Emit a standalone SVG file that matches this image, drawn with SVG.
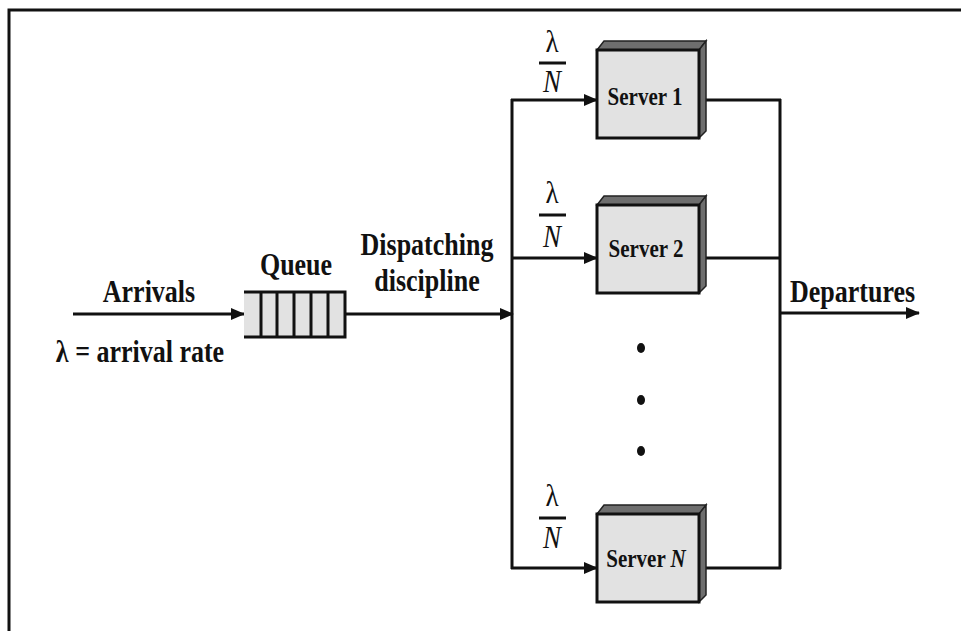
<svg xmlns="http://www.w3.org/2000/svg" width="961" height="631" viewBox="0 0 961 631">
<style>
  .ln { stroke: #111; stroke-width: 3; fill: none; }
  .lbl { font-family: "Liberation Serif", "Times New Roman", serif; font-weight: bold; font-size: 26px; fill: #111; }
  .srv { font-family: "Liberation Serif", "Times New Roman", serif; font-weight: bold; font-size: 21px; fill: #111; text-anchor: middle; }
  .frac { font-family: "Liberation Serif", "Times New Roman", serif; font-size: 27px; fill: #111; text-anchor: middle; }
  .it { font-style: italic; }
  .front { fill: #e2e2e2; stroke: #111; stroke-width: 3; }
  .side { fill: #6e6e6e; stroke: #222; stroke-width: 1.5; }
  .mid { text-anchor: middle; }
</style>
<defs>
  <marker id="ah" markerWidth="14" markerHeight="14" refX="13" refY="7" orient="auto" markerUnits="userSpaceOnUse">
    <path d="M0,1 L14,7 L0,13 Z" fill="#111"/>
  </marker>
</defs>
<rect width="961" height="631" fill="#fff"/>
<path d="M9,631 V10 H961" class="ln"/>

<g id="connectors">
  <line x1="73" y1="314" x2="244" y2="314" class="ln" marker-end="url(#ah)"/>
  <line x1="345" y1="314" x2="513" y2="314" class="ln" marker-end="url(#ah)"/>
  <line x1="512" y1="99" x2="512" y2="569" class="ln"/>
  <line x1="511" y1="100" x2="597" y2="100" class="ln" marker-end="url(#ah)"/>
  <line x1="511" y1="258" x2="597" y2="258" class="ln" marker-end="url(#ah)"/>
  <line x1="511" y1="568" x2="597" y2="568" class="ln" marker-end="url(#ah)"/>
  <line x1="705" y1="100" x2="781" y2="100" class="ln"/>
  <line x1="705" y1="258" x2="781" y2="258" class="ln"/>
  <line x1="705" y1="568" x2="781" y2="568" class="ln"/>
  <line x1="780" y1="99" x2="780" y2="569" class="ln"/>
  <line x1="780" y1="313" x2="919" y2="313" class="ln" marker-end="url(#ah)"/>
</g>

<g id="arrivals">
  <text class="lbl mid" transform="translate(149,302) scale(1,1.2)">Arrivals</text>
  <text class="lbl mid" transform="translate(140,362) scale(1,1.2)">λ = arrival rate</text>
</g>

<g id="queue">
  <rect x="244" y="292" width="101" height="45" fill="#e2e2e2"/>
  <path d="M244,292 H345 V337 H244 M261,292 V337 M277,292 V337 M294,292 V337 M311,292 V337 M328,292 V337" class="ln"/>
  <text class="lbl mid" transform="translate(296,275) scale(1,1.2)">Queue</text>
</g>

<g id="dispatch">
  <text class="lbl mid" transform="translate(427,255) scale(1,1.2)">Dispatching</text>
  <text class="lbl mid" transform="translate(427,291) scale(1,1.2)">discipline</text>
</g>

<g id="server1">
  <polygon class="side" points="597,50 604,41 706,41 699,50"/>
  <polygon class="side" points="699,50 706,41 706,131 699,138"/>
  <rect class="front" x="597" y="50" width="102" height="88"/>
  <text class="srv" transform="translate(645,105) scale(1,1.22)">Server 1</text>
  <text class="frac" transform="translate(552,52) scale(1,1.2)">λ</text>
  <line x1="539" y1="63" x2="566" y2="63" class="ln"/>
  <text class="frac it" transform="translate(552,92) scale(1,1.2)">N</text>
</g>

<g id="server2">
  <polygon class="side" points="597,205 604,196 706,196 699,205"/>
  <polygon class="side" points="699,205 706,196 706,286 699,293"/>
  <rect class="front" x="597" y="205" width="102" height="88"/>
  <text class="srv" transform="translate(646,257) scale(1,1.22)">Server 2</text>
  <text class="frac" transform="translate(552,203) scale(1,1.2)">λ</text>
  <line x1="539" y1="215" x2="566" y2="215" class="ln"/>
  <text class="frac it" transform="translate(552,247) scale(1,1.2)">N</text>
</g>

<g id="dots">
  <ellipse cx="641" cy="348" rx="4" ry="5" fill="#111"/>
  <ellipse cx="641" cy="400" rx="4" ry="5" fill="#111"/>
  <ellipse cx="641" cy="451" rx="4" ry="5" fill="#111"/>
</g>

<g id="serverN">
  <polygon class="side" points="597,514 604,505 706,505 699,514"/>
  <polygon class="side" points="699,514 706,505 706,595 699,602"/>
  <rect class="front" x="597" y="514" width="102" height="88"/>
  <text class="srv" transform="translate(646,567) scale(1,1.22)">Server <tspan class="it">N</tspan></text>
  <text class="frac" transform="translate(552,506) scale(1,1.2)">λ</text>
  <line x1="539" y1="518" x2="566" y2="518" class="ln"/>
  <text class="frac it" transform="translate(552,548) scale(1,1.2)">N</text>
</g>

<g id="departures">
  <text class="lbl" transform="translate(790,302) scale(1,1.2)">Departures</text>
</g>
</svg>
